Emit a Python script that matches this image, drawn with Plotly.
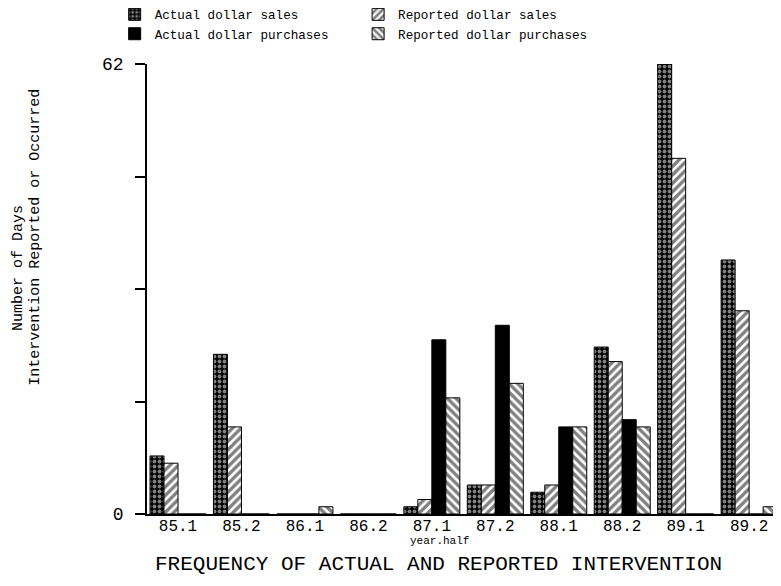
import plotly.graph_objects as go

categories = ["85.1", "85.2", "86.1", "86.2", "87.1", "87.2", "88.1", "88.2", "89.1", "89.2"]
actual_sales = [8, 22, 0, 0, 1, 4, 3, 23, 62, 35]
reported_sales = [7, 12, 0, 0, 2, 4, 4, 21, 49, 28]
actual_purchases = [0, 0, 0, 0, 24, 26, 12, 13, 0, 0]
reported_purchases = [0, 0, 1, 0, 16, 18, 12, 12, 0, 1]

y_tickvals = [0, 15.5, 31, 46.5, 62]
y_ticktext = ["0", "", "", "", "62"]

FONT = "Liberation Mono, DejaVu Sans Mono, monospace"
LINE = dict(color="black", width=1)

fig = go.Figure()
fig.add_trace(go.Bar(
    x=categories, y=actual_sales, name="Actual dollar sales", legend="legend",
    marker=dict(color="black", line=LINE,
                pattern=dict(shape=".", fgcolor="white", bgcolor="black", size=5, solidity=0.45)),
))
fig.add_trace(go.Bar(
    x=categories, y=reported_sales, name="Reported dollar sales", legend="legend2",
    marker=dict(color="white", line=LINE,
                pattern=dict(shape="/", fgcolor="black", bgcolor="white", size=6, solidity=0.55)),
))
fig.add_trace(go.Bar(
    x=categories, y=actual_purchases, name="Actual dollar purchases", legend="legend",
    marker=dict(color="black", line=LINE),
))
fig.add_trace(go.Bar(
    x=categories, y=reported_purchases, name="Reported dollar purchases", legend="legend2",
    marker=dict(color="white", line=LINE,
                pattern=dict(shape="\\", fgcolor="black", bgcolor="white", size=6, solidity=0.55)),
))

legend_common = dict(
    orientation="v", yanchor="top", xanchor="left",
    font=dict(family=FONT, size=12.6, color="black"),
    bgcolor="rgba(0,0,0,0)", traceorder="normal", tracegroupgap=0,
)

# The page body adds an 8px offset, so the figure is 8px smaller and margins are reduced by 8
fig.update_layout(
    width=773, height=578,
    margin=dict(l=139, r=0, t=56, b=72, autoexpand=False),
    paper_bgcolor="white", plot_bgcolor="white",
    barmode="group", bargap=0.1176, bargroupgap=0,
    font=dict(family=FONT, color="black"),
    showlegend=True,
    legend=dict(x=-0.051, y=1.143, **legend_common),
    legend2=dict(x=0.333, y=1.143, **legend_common),
    xaxis=dict(
        type="category", range=[-0.4885, 9.502],
        showline=True, linecolor="black", linewidth=2,
        ticks="", showgrid=False, zeroline=False,
        tickfont=dict(family=FONT, size=16, color="black"),
        ticklabelstandoff=-4,
    ),
    yaxis=dict(
        range=[0, 62], showline=True, linecolor="black", linewidth=1.5,
        tickvals=y_tickvals, ticktext=y_ticktext,
        ticks="outside", ticklen=10, tickwidth=1.5, tickcolor="black",
        showgrid=False, zeroline=False,
        tickfont=dict(family=FONT, size=18, color="black"),
        ticklabelstandoff=8,
    ),
    annotations=[
        dict(text="Number of Days", textangle=-90, xref="paper", yref="paper",
             x=-0.202, y=0.5467, xanchor="center", yanchor="middle", showarrow=False,
             font=dict(family=FONT, size=15, color="black")),
        dict(text="Intervention Reported or Occurred", textangle=-90, xref="paper", yref="paper",
             x=-0.1755, y=0.6156, xanchor="center", yanchor="middle", showarrow=False,
             font=dict(family=FONT, size=15, color="black")),
        dict(text="year.half", xref="paper", yref="paper",
             x=0.4606, y=-0.06, xanchor="center", yanchor="middle", showarrow=False,
             font=dict(family=FONT, size=11, color="black")),
        dict(text="FREQUENCY OF ACTUAL AND REPORTED INTERVENTION", xref="paper", yref="paper",
             x=0.459, y=-0.1133, xanchor="center", yanchor="middle", showarrow=False,
             font=dict(family=FONT, size=21, color="black")),
    ],
)

fig.write_html("out.html")
